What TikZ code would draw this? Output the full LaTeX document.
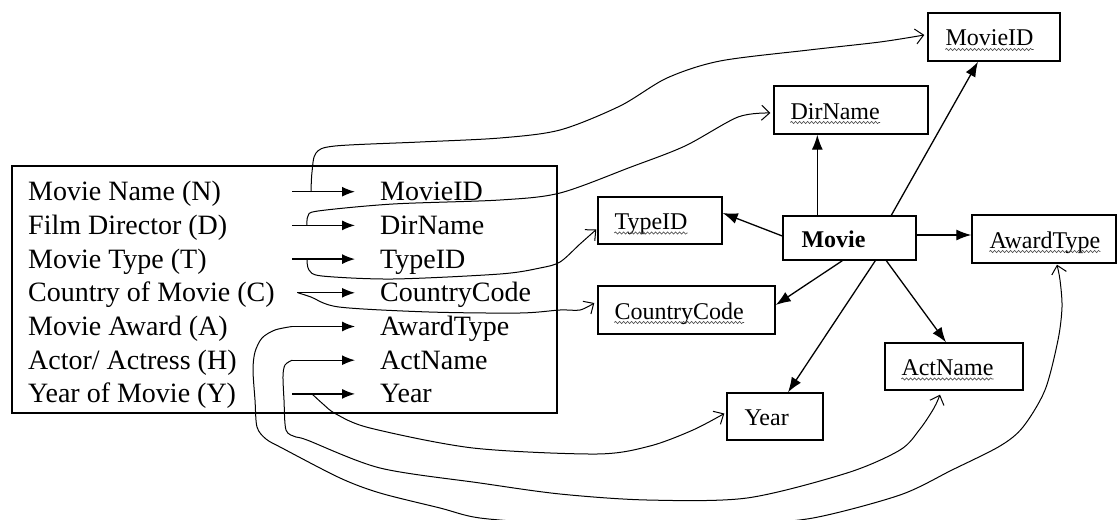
\documentclass[tikz,border=0pt]{standalone}
\usepackage{fontspec}
\setmainfont{Liberation Serif}
\usetikzlibrary{arrows.meta,decorations.pathmorphing,calc}

\tikzset{
  listtext/.style={font=\fontsize{28}{34}\selectfont, inner sep=0pt, anchor=base west},
  boxtext/.style={font=\fontsize{24}{28}\selectfont, inner sep=0pt, anchor=base west},
  entity/.style 2 args={draw, line width=1.4pt, minimum width=#1, minimum height=#2, inner sep=0pt},
  listbox/.style 2 args={draw, line width=1.3pt, minimum width=#1, minimum height=#2, inner sep=0pt},
  rowarrow/.style={line width=1.3pt, -{Latex[length=13pt,width=10pt]}, shorten >=25pt},
  solidarrow/.style={line width=1.3pt, -{Latex[length=15pt,width=11pt]}},
  hand/.style={line width=1pt, line join=round, line cap=round,
    -{Straight Barb[length=8pt,width=15pt,line width=1pt]}},
  squiggle/.style={line width=0.6pt, gray!55!black,
    decorate, decoration={snake, amplitude=1.1pt, segment length=4pt}},
}

\begin{document}
\begin{tikzpicture}[x=1pt,y=-1pt]
\fill[white] (0,0) rectangle (1118,519);
\useasboundingbox (0,0) rectangle (1118,519);

% ---------- attribute list ----------
\node[listbox={545pt}{247pt}] (lbox) at (284.5,289.5) {};

\node[listtext] (L1) at (28,200.7) {Movie Name (N)};
\node[listtext] (L2) at (28,234.4) {Film Director (D)};
\node[listtext] (L3) at (28,268.1) {Movie Type (T)};
\node[listtext] (L4) at (28,301.8) {Country of Movie (C)};
\node[listtext] (L5) at (28,335.5) {Movie Award (A)};
\node[listtext] (L6) at (28,369.2) {Actor/ Actress (H)};
\node[listtext] (L7) at (28,402.9) {Year of Movie (Y)};

\node[listtext] (R1) at (380,200.7) {MovieID};
\node[listtext] (R2) at (380,234.4) {DirName};
\node[listtext] (R3) at (380,268.1) {TypeID};
\node[listtext] (R4) at (380,301.8) {CountryCode};
\node[listtext] (R5) at (380,335.5) {AwardType};
\node[listtext] (R6) at (380,369.2) {ActName};
\node[listtext] (R7) at (380,402.9) {Year};

\coordinate (S1) at (292,191.7);
\coordinate (S2) at (292,225.4);
\coordinate (S3) at (292,259.1);
\coordinate (S4) at (297,292.8);
\coordinate (S5) at (292,326.5);
\coordinate (S6) at (292,360.2);
\coordinate (S7) at (292,393.9);

\foreach \k in {1,...,7}
  \draw[rowarrow] (S\k) -- (S\k -| R\k.west);

% points on the row arrows where the hand-drawn links begin
\coordinate (C1) at (311,191.7);
\coordinate (C2) at (307,225.4);
\coordinate (C3) at (307,259.1);
\coordinate (C4) at (298,292.8);
\coordinate (C7) at (312,393.9);

% ---------- entity boxes ----------
\node[entity={132pt}{48pt}] (mid) at (994,37) {};
\node[entity={154pt}{48pt}] (dn)  at (851,110) {};
\node[entity={124pt}{47pt}] (tid) at (660,220.5) {};
\node[entity={133pt}{44pt}] (mov) at (849.5,238) {};
\node[entity={144pt}{48pt}] (awd) at (1044,239) {};
\node[entity={177pt}{48pt}] (cc)  at (686.5,310) {};
\node[entity={138pt}{47pt}] (an)  at (954,366.5) {};
\node[entity={96pt}{47pt}]  (yr)  at (775,416.5) {};

\path (mid.west) ++(18,9) node[boxtext] (midt) {MovieID};
\path (dn.west)  ++(17,9) node[boxtext] (dnt)  {DirName};
\path (tid.west) ++(17,9) node[boxtext] (tidt) {TypeID};
\path (mov.west) ++(19,9) node[boxtext, font=\fontsize{24}{28}\selectfont\bfseries] (movt) {Movie};
\path (awd.west) ++(18,9) node[boxtext] (awdt) {AwardType};
\path (cc.west)  ++(17,9) node[boxtext] (cct)  {CountryCode};
\path (an.west)  ++(17,9) node[boxtext] (ant)  {ActName};
\path (yr.west)  ++(18,9) node[boxtext] (yrt)  {Year};

\foreach \t in {midt,dnt,tidt,awdt,cct,ant}
  \draw[squiggle] ([yshift=-3.5pt]\t.base west) -- ([yshift=-3.5pt]\t.base east);

% ---------- arrows from Movie ----------
\coordinate (m1) at ([xshift=35pt]mov.north west);
\coordinate (m2) at ([xshift=109pt]mov.north west);
\coordinate (m3) at ([yshift=3pt]mov.east);
\coordinate (m4) at ([xshift=60pt]mov.south west);
\coordinate (m5) at ([xshift=93pt]mov.south west);
\coordinate (m6) at ([xshift=104pt]mov.south west);
\coordinate (m7) at ([yshift=2pt]mov.west);

\draw[solidarrow] (m1) -- (m1 |- dn.south);
\draw[solidarrow] (m2) -- ([xshift=-16pt]mid.south);
\draw[solidarrow] (m3) -- (m3 -| awd.west);
\draw[solidarrow] (m7) -- ([yshift=7.5pt]tid.east);
\draw[solidarrow] (m4) -- ([yshift=5pt]cc.east);
\draw[solidarrow] (m5) -- ([xshift=13pt]yr.north);
\draw[solidarrow] (m6) -- ([xshift=-8pt]an.north);

% ---------- hand-drawn links ----------
\draw[hand] plot[smooth] coordinates {(C1) (312,172) (316,153) (335,146) (420,142) (500,138)
  (560,130) (620,106) (667,78) (720,61) (809,50) (880,42) ([xshift=-3pt,yshift=2pt]mid.west)};

\draw[hand] plot[smooth] coordinates {(C2) (308,216) (318,211) (393,204) (500,200) (560,193)
  (631,167) (685,146) (738,117) ([xshift=-3pt,yshift=-3pt]dn.west)};

\draw[hand] plot[smooth] coordinates {(C3) (309,270) (322,276) (393,279) (500,274) (540,268)
  (560,262) (580,244) ([xshift=-1pt,yshift=-9pt]tid.west)};

\draw[hand] plot[smooth] coordinates {(C4) (311,297) (339,307) (429,312) (520,313) (560,310)
  (580,310) ([xshift=-3pt,yshift=7pt]cc.west)};

\draw[hand] plot[smooth] coordinates {(S5) (275,330) (262,338) (255,352) (253,370) (255,400)
  (257,427) (266,439) (282,448) (340,478) (380,493) (440,508) (480,518) (560,524) (650,526)
  (740,524) (813,518) (900,495) (952,470) (1000,446) (1023,427) (1045,390) (1058,340)
  (1062,307) (1060,280) ([xshift=13pt,yshift=-1pt]awd.south)};

\draw[hand] plot[smooth] coordinates {(S6) (285,365) (283,376) (284,400) (286,430) (296,437)
  (307,440) (380,468) (480,483) (560,494) (647,500) (747,498) (847,473) (900,450) (920,429)
  (934,408) ([xshift=-14pt,yshift=-4pt]an.south)};

\draw[hand] plot[smooth] coordinates {(C7) (323,404) (336,414) (370,428) (473,448)
  (597,454) (650,446) (693,430) ([xshift=-2pt,yshift=3pt]yr.west)};
\end{tikzpicture}
\end{document}
